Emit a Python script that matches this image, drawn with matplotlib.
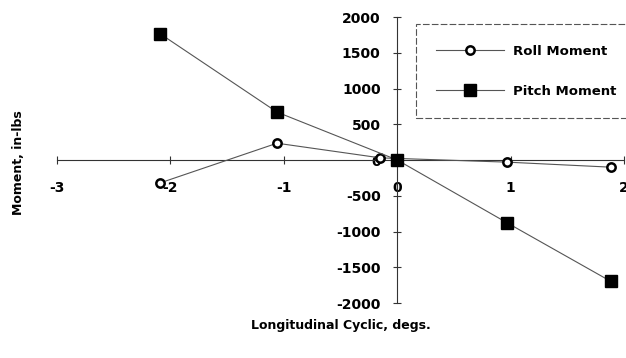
import matplotlib
matplotlib.use('Agg')
import matplotlib.pyplot as plt
from matplotlib.lines import Line2D

# Longitudinal cyclic sweep (degs) and resulting hub moments (in-lbs)
pitch_cyclic = [-2.09, -1.06, 0.0, 0.97, 1.88]
pitch_moment = [1765, 670, 0, -880, -1695]

roll_cyclic = [-2.09, -1.06, -0.15, 0.97, 1.88]
roll_moment = [-320, 235, 30, -30, -100]

x_ticks = [-3, -2, -1, 0, 1, 2]
y_ticks = [-2000, -1500, -1000, -500, 0, 500, 1000, 1500, 2000]

plt.rcParams['font.family'] = 'DejaVu Sans'
plt.rcParams['font.weight'] = 'bold'
plt.rcParams['axes.unicode_minus'] = False

fig = plt.figure(figsize=(6.26, 3.58), dpi=100)
ax = fig.add_axes([0.091, 0.1536, 0.906, 0.7989])

line_color = '#555555'
ax.plot(roll_cyclic, roll_moment, color=line_color, lw=0.8,
        marker='o', ms=6, mfc='white', mec='black', mew=1.8, zorder=3)
ax.plot(pitch_cyclic, pitch_moment, color=line_color, lw=0.8,
        marker='s', ms=8, mfc='black', mec='black', zorder=3)

ax.set_xlim(-3, 2)
ax.set_ylim(-2000, 2000)

# axes cross at the origin
ax.spines['left'].set_position(('data', 0))
ax.spines['bottom'].set_position(('data', 0))
ax.spines['top'].set_visible(False)
ax.spines['right'].set_visible(False)
for s in ('left', 'bottom'):
    ax.spines[s].set_color('#333333')
    ax.spines[s].set_linewidth(0.8)

ax.set_xticks(x_ticks)
ax.set_yticks(y_ticks)
ax.tick_params(axis='x', direction='inout', length=6, width=0.8, pad=12,
               labelsize=10, colors='#333333', labelcolor='black')
ax.tick_params(axis='y', direction='inout', length=6, width=0.8, pad=9,
               labelsize=10, colors='#333333', labelcolor='black')
for lab in ax.get_xticklabels() + ax.get_yticklabels():
    lab.set_fontweight('bold')

fig.text(0.029, 0.545, 'Moment, in-lbs', rotation=90, ha='center', va='center',
         fontsize=9, fontweight='bold')
fig.text(0.545, 0.092, 'Longitudinal Cyclic, degs.', ha='center', va='center',
         fontsize=9, fontweight='bold')

handles = [
    Line2D([], [], color=line_color, lw=0.8, marker='o', ms=6, mfc='white',
           mec='black', mew=1.8),
    Line2D([], [], color=line_color, lw=0.8, marker='s', ms=8, mfc='black',
           mec='black'),
]
leg = ax.legend(handles, ['Roll Moment', 'Pitch Moment'],
                loc='upper left', bbox_to_anchor=(0.633, 0.975, 0.5, 0.0),
                mode='expand', borderaxespad=0, fontsize=9.5, handlelength=5.1,
                handletextpad=0.7, labelspacing=2.05, borderpad=1.55,
                fancybox=False, framealpha=1)
for t in leg.get_texts():
    t.set_fontweight('bold')
leg.get_frame().set_edgecolor('#555555')
leg.get_frame().set_linewidth(0.8)
leg.get_frame().set_linestyle((0, (6, 2)))

fig.savefig('out.png', dpi=100)
